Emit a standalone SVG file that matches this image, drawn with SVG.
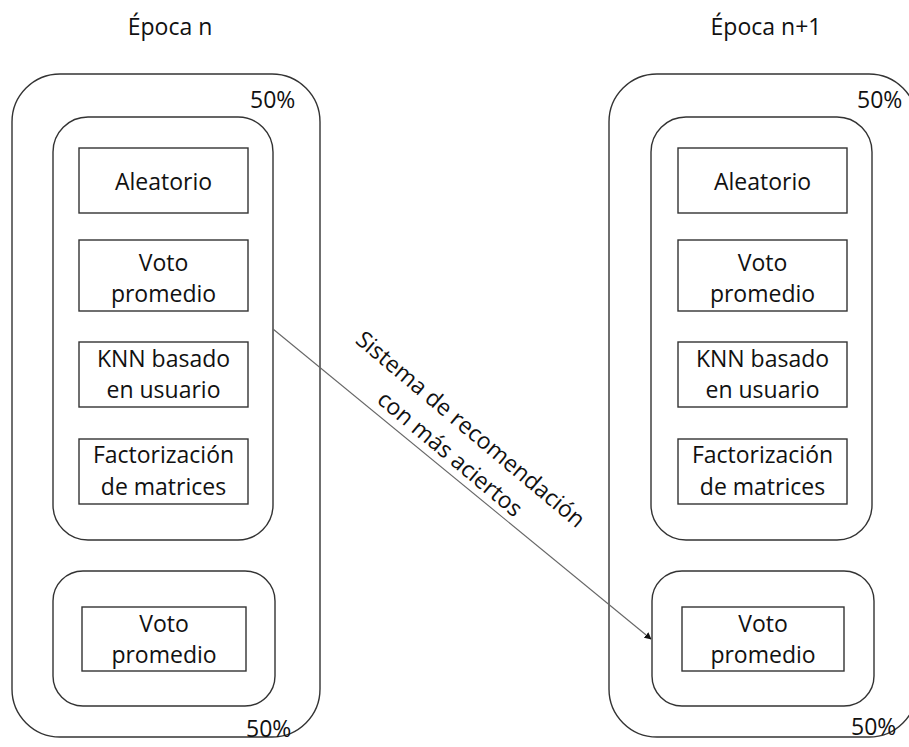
<svg xmlns="http://www.w3.org/2000/svg" width="909" height="747" viewBox="0 0 909 747">
  <style>
    text { font-family: "Open Sans", "Noto Sans", "Liberation Sans", sans-serif; font-size: 23px; fill: #111; }
    .c { text-anchor: middle; }
    .outer { fill: none; stroke: #333; stroke-width: 1.4; }
    .group { fill: none; stroke: #333; stroke-width: 1.4; }
    .item { fill: #fff; stroke: #333; stroke-width: 1.4; }
    .link { fill: none; stroke: #666; stroke-width: 1.1; }
  </style>
  <defs>
    <marker id="arrow" viewBox="0 0 10 10" refX="9" refY="5" markerWidth="7" markerHeight="7" markerUnits="userSpaceOnUse" orient="auto">
      <path d="M0,0 L10,5 L0,10 z" fill="#111"/>
    </marker>
  </defs>

  <rect width="909" height="747" fill="#fff"/>

  <!-- Epoch n -->
  <g id="epoch-n">
    <text class="c" x="170" y="35">Época n</text>
    <rect class="outer" x="12" y="74" width="308" height="663" rx="48" ry="48"/>
    <text x="250" y="108">50%</text>
    <text x="246" y="737">50%</text>
  </g>
  <g id="pool-n">
    <rect class="group" x="53" y="117" width="220" height="423" rx="35" ry="35"/>
  </g>
  <g id="aleatorio-n">
    <rect class="item" x="79" y="148" width="169" height="65"/>
    <text class="c" x="163.5" y="190">Aleatorio</text>
  </g>
  <g id="voto-n">
    <rect class="item" x="79" y="240" width="169" height="71"/>
    <text class="c" x="163.5" y="271">Voto</text>
    <text class="c" x="163.5" y="302">promedio</text>
  </g>
  <g id="knn-n">
    <rect class="item" x="79" y="342" width="169" height="65"/>
    <text class="c" x="163.5" y="367">KNN basado</text>
    <text class="c" x="163.5" y="398">en usuario</text>
  </g>
  <g id="factorizacion-n">
    <rect class="item" x="79" y="439" width="169" height="65"/>
    <text class="c" x="163.5" y="463">Factorización</text>
    <text class="c" x="163.5" y="495">de matrices</text>
  </g>
  <g id="best-n">
    <rect class="group" x="53" y="571" width="222" height="135" rx="30" ry="30"/>
    <rect class="item" x="82" y="607" width="164" height="64"/>
    <text class="c" x="164" y="632">Voto</text>
    <text class="c" x="164" y="663">promedio</text>
  </g>

  <!-- Epoch n+1 -->
  <g id="epoch-n1">
    <text class="c" x="766" y="35">Época n+1</text>
    <rect class="outer" x="609" y="74" width="308" height="663" rx="48" ry="48"/>
    <text x="857" y="108">50%</text>
    <text x="851" y="735">50%</text>
  </g>
  <g id="pool-n1">
    <rect class="group" x="651" y="117" width="221" height="423" rx="35" ry="35"/>
  </g>
  <g id="aleatorio-n1">
    <rect class="item" x="678" y="148" width="169" height="65"/>
    <text class="c" x="762.5" y="190">Aleatorio</text>
  </g>
  <g id="voto-n1">
    <rect class="item" x="678" y="240" width="169" height="71"/>
    <text class="c" x="762.5" y="271">Voto</text>
    <text class="c" x="762.5" y="302">promedio</text>
  </g>
  <g id="knn-n1">
    <rect class="item" x="678" y="342" width="169" height="65"/>
    <text class="c" x="762.5" y="367">KNN basado</text>
    <text class="c" x="762.5" y="398">en usuario</text>
  </g>
  <g id="factorizacion-n1">
    <rect class="item" x="678" y="439" width="169" height="65"/>
    <text class="c" x="762.5" y="463">Factorización</text>
    <text class="c" x="762.5" y="495">de matrices</text>
  </g>
  <g id="best-n1">
    <rect class="group" x="652" y="571" width="222" height="135" rx="30" ry="30"/>
    <rect class="item" x="682" y="607" width="162" height="64"/>
    <text class="c" x="763" y="632">Voto</text>
    <text class="c" x="763" y="663">promedio</text>
  </g>

  <!-- Connector: best system carried over to the next epoch -->
  <g id="connectors">
    <line class="link" x1="273" y1="329" x2="651" y2="639" marker-end="url(#arrow)"/>
    <g transform="translate(465.5 435.4) rotate(40)">
      <text class="c" x="0" y="0">Sistema de recomendación</text>
      <text class="c" x="0" y="32">con más aciertos</text>
    </g>
  </g>
</svg>
